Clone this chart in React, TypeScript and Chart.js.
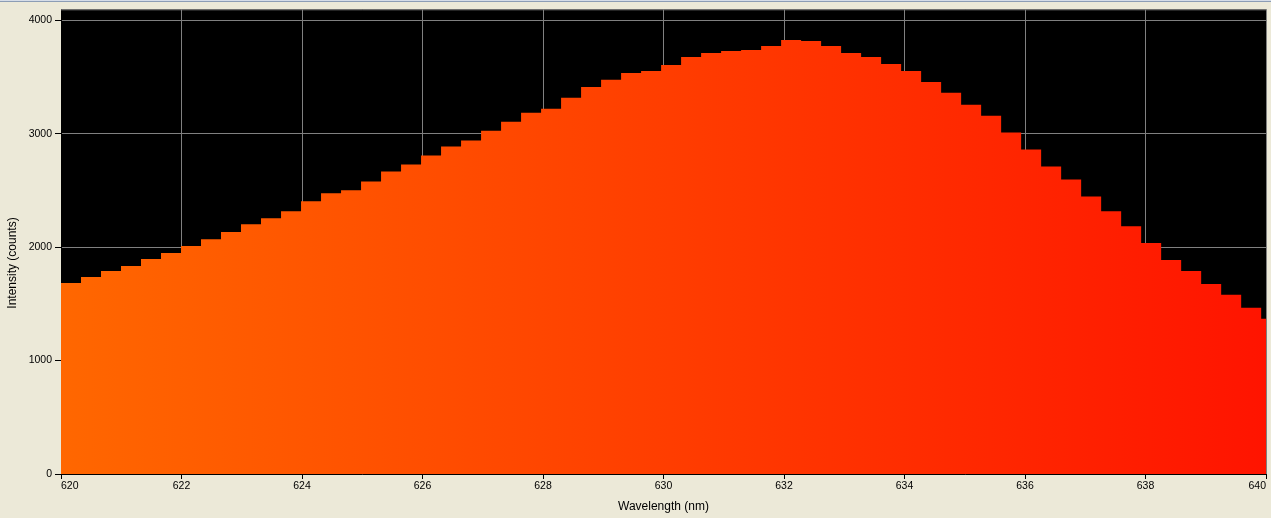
import React, { useEffect, useRef } from 'react';
import { Chart, registerables } from 'chart.js';

Chart.register(...registerables);

// Spectrum bins: each bin starts at binStart + i * binWidth (nm)
const binStart = 620;
const binWidth = 0.332;
const intensity = [
  1684, 1737, 1789, 1833, 1895, 1947, 2009, 2070, 2132, 2202,
  2254, 2316, 2404, 2474, 2500, 2579, 2667, 2728, 2807, 2886,
  2939, 3026, 3105, 3184, 3219, 3316, 3412, 3474, 3535, 3553,
  3605, 3675, 3711, 3728, 3737, 3772, 3825, 3816, 3772, 3711,
  3675, 3614, 3553, 3456, 3360, 3254, 3158, 3009, 2860, 2711,
  2596, 2447, 2316, 2184, 2035, 1886, 1789, 1675, 1579, 1465,
  1368,
];
const xTicks = [620, 622, 624, 626, 628, 630, 632, 634, 636, 638, 640];
const yTicks = [0, 1000, 2000, 3000, 4000];
const xMin = 620;
const xMax = 640;
const yMin = 0;
const yMax = 4096;
const xTitle = 'Wavelength (nm)';
const yTitle = 'Intensity (counts)';

const W = 1271;
const H = 518;
const FONT = '"Liberation Sans", Arial, sans-serif';

export default function App() {
  const ref = useRef<HTMLCanvasElement | null>(null);

  useEffect(() => {
    document.body.style.margin = '0';
    document.body.style.background = '#ECE9D8';
    const canvas = ref.current;
    if (!canvas) return;

    const points = intensity.map((v, i) => ({ x: binStart + i * binWidth, y: v }));
    points.push({ x: binStart + intensity.length * binWidth, y: intensity[intensity.length - 1] });

    const bgPlugin = {
      id: 'bgPlugin',
      beforeDraw(chart: any) {
        const { ctx, chartArea } = chart;
        ctx.save();
        ctx.fillStyle = '#ECE9D8';
        ctx.fillRect(0, 0, W, H);
        ctx.fillStyle = '#D6DDE8';
        ctx.fillRect(0, 0, W, 1);
        ctx.fillStyle = '#8C9DB5';
        ctx.fillRect(0, 1, W, 1);
        ctx.fillStyle = '#000000';
        ctx.fillRect(chartArea.left, chartArea.top, chartArea.right - chartArea.left, chartArea.bottom - chartArea.top);
        ctx.restore();
      },
      afterDatasetsDraw(chart: any) {
        const { ctx, chartArea } = chart;
        ctx.save();
        ctx.strokeStyle = '#808080';
        ctx.lineWidth = 1;
        ctx.beginPath();
        ctx.moveTo(chartArea.left, chartArea.top + 0.5);
        ctx.lineTo(chartArea.right + 0.5, chartArea.top + 0.5);
        ctx.lineTo(chartArea.right + 0.5, chartArea.bottom);
        ctx.stroke();
        ctx.restore();
      },
      afterDraw(chart: any) {
        const { ctx } = chart;
        ctx.save();
        ctx.translate(12.5, 263);
        ctx.rotate(-Math.PI / 2);
        ctx.fillStyle = '#000000';
        ctx.font = '12px ' + FONT;
        ctx.textAlign = 'center';
        ctx.textBaseline = 'middle';
        ctx.fillText(yTitle, 0, 0);
        ctx.restore();
      },
    };

    const chart = new Chart(canvas, {
      type: 'line',
      data: {
        datasets: [
          {
            data: points,
            stepped: 'before',
            fill: 'origin',
            borderWidth: 0,
            borderColor: 'rgba(0,0,0,0)',
            pointRadius: 0,
            pointHoverRadius: 0,
            backgroundColor: (c: any) => {
              const { chart: ch } = c;
              const area = ch.chartArea;
              if (!area) return '#FF4000';
              const g = ch.ctx.createLinearGradient(area.left, 0, area.right, 0);
              g.addColorStop(0, 'rgb(255,103,0)');
              g.addColorStop(1, 'rgb(255,20,0)');
              return g;
            },
          },
        ],
      },
      options: {
        responsive: false,
        animation: false,
        devicePixelRatio: 1,
        layout: { padding: { top: 7, right: 5, left: 0, bottom: 0 } },
        plugins: {
          legend: { display: false },
          tooltip: { enabled: false },
          title: { display: false },
        },
        scales: {
          x: {
            type: 'linear',
            min: xMin,
            max: xMax,
            afterBuildTicks: (s: any) => {
              s.ticks = xTicks.map((v) => ({ value: v }));
            },
            afterFit: (s: any) => {
              s.height = 44;
            },
            ticks: {
              align: 'inner',
              autoSkip: false,
              maxRotation: 0,
              color: '#000000',
              padding: 1,
              font: { family: FONT, size: 10.5 },
              callback: (v: any) => String(v),
            },
            grid: {
              color: '#808080',
              tickColor: '#000000',
              tickLength: 5,
              lineWidth: 1,
            },
            border: { display: true, color: '#000000', width: 1 },
            title: {
              display: true,
              text: xTitle,
              color: '#000000',
              font: { family: FONT, size: 12 },
              padding: { top: 0, bottom: 4 },
            },
          },
          y: {
            type: 'linear',
            min: yMin,
            max: yMax,
            afterBuildTicks: (s: any) => {
              s.ticks = yTicks.map((v) => ({ value: v }));
            },
            afterFit: (s: any) => {
              s.width = 61;
            },
            ticks: {
              color: '#000000',
              padding: 3,
              font: { family: FONT, size: 10.5 },
              callback: (v: any) => String(v),
            },
            grid: {
              color: '#808080',
              tickColor: '#000000',
              tickLength: 6,
              lineWidth: 1,
            },
            border: { display: true, color: '#000000', width: 1 },
            title: { display: false },
          },
        },
      } as any,
      plugins: [bgPlugin],
    });

    return () => chart.destroy();
  }, []);

  return (
    <div style={{ width: W, height: H }}>
      <canvas ref={ref} width={W} height={H} style={{ display: 'block', width: W, height: H }} />
    </div>
  );
}
